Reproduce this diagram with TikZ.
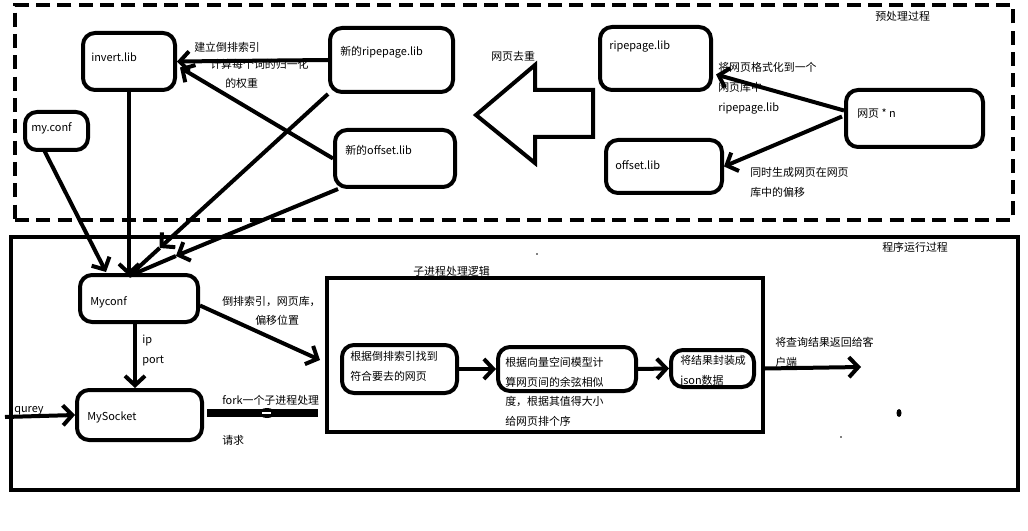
\documentclass[tikz,border=0pt]{standalone}
\usepackage{fontspec}
\setmainfont{Noto Sans CJK SC}
\usetikzlibrary{arrows.meta,calc,fit}
\begin{document}
\begin{tikzpicture}[x=0.75pt,y=-0.75pt,
  box/.style={draw,line width=3pt,rounded corners=9pt,inner sep=0pt},
  frame/.style={draw,line width=3.5pt,inner sep=0pt},
  t/.style={anchor=base west,inner sep=0pt,font=\fontsize{8.2pt}{10pt}\selectfont},
  arr/.style={line width=3pt,-{Straight Barb[length=7pt,width=15pt]}},
  ln/.style={line width=3pt}]
\useasboundingbox (0,0) rectangle (1028,531);

% frames
\node[frame,dash pattern=on 10.5pt off 5.5pt,fit={(15,5)(1013,220)}] (pre) {};
\node[frame,fit={(11,237)(1018,490)}] (run) {};
\node[frame,line width=3pt,fit={(327,278)(763,432)}] (sub) {};

% boxes
\node[box,fit={(83,33)(175,90)}] (inv) {};
\node[box,fit={(25,112)(88,150)}] (mc) {};
\node[box,fit={(330,28)(453,92)}] (rip) {};
\node[box,fit={(335,130)(455,187)}] (off) {};
\node[box,fit={(600,27)(711,90)}] (rp) {};
\node[box,fit={(606,140)(722,193)}] (of) {};
\node[box,fit={(846,90)(983,147)}] (web) {};
\node[box,fit={(80,275)(198,322)}] (cf) {};
\node[box,fit={(77,390)(202,440)}] (sock) {};
\node[box,fit={(342,345)(457,393)}] (b1) {};
\node[box,fit={(498,347)(636,391)}] (b2) {};
\node[box,fit={(671,350)(754,387)}] (b3) {};

% hollow arrow
\draw[line width=3pt,line join=miter] (476,115) -- (535,65) -- (535,90) -- (593,90) -- (593,137) -- (535,137) -- (535,163) -- cycle;

% coordinates
\coordinate (conv) at (129,276);
\coordinate (q) at (5,417);
\coordinate (f1) at (207,413);
\coordinate (f2) at (318,413);
\coordinate (out) at (861,367);
\coordinate (m1) at ($(rip.south west)!0.846!(conv)$);
\coordinate (m2) at ($(off.south west)!0.77!(conv)$);

% connectors
\draw[arr] (rip.west) -- (inv.east);
\draw[arr] (off.west) -- ($(inv.east)+(3,6)$);
\draw[arr] ($(mc.south)+(-13,-3)$) -- ($(conv)+(-23,-4)$);
\draw[arr] (inv.south) -- (conv);
\draw[arr] (rip.south west) -- (m1);
\draw[ln] (m1) -- (conv);
\draw[arr] ($(off.south west)+(5,0)$) -- (m2);
\draw[ln] (m2) -- (conv);
\draw[arr] ($(cf.south)+(-4,0)$) -- ($(sock.north)+(-4.5,0)$);
\draw[arr] (q) -- (sock.west);
\draw[arr] ($(cf.east)+(0,7)$) -- ($(sub.west)+(-5,5)$);
\draw[line width=5.5pt] (f1) -- (f2);
\fill (267,413) ellipse (8 and 5);
\draw[white,line width=1pt] (262,413) -- (271,413);
\draw[arr] (b1.east) -- (b2.west);
\draw[arr] (b2.east) -- (b3.west);
\draw[arr] (sub.east |- b3.east) -- (out);
\draw[arr] ($(web.west)+(0,-8)$) -- ($(rp.east)+(3,16)$);
\draw[arr] ($(web.west)+(-2,-2)$) -- (of.east);

% stray dots
\fill (899,413) ellipse (2.5 and 4);
\fill (537,254) circle (0.8);
\fill (841,437) circle (0.8);

% texts
\node[t] (tinv) at (91,62) {invert.lib};
\node[t] (tmc) at (31,132) {my.conf};
\node[t] (trip) at (340,56) {新的ripepage.lib};
\node[t] (toff) at (345,155) {新的offset.lib};
\node[t] (l1) at (194,52) {建立倒排索引};
\node[t] (l2) at (210,69) {计算每个词的归一化};
\node[t] (l3) at (225,88) {的权重};
\node[t] (tqc) at (491,61) {网页去重};
\node[t] (trp) at (609,50) {ripepage.lib};
\node[t] (tof) at (615,170) {offset.lib};
\node[t] (tweb) at (857,118) {网页 * n};
\node[t] (l4) at (718,72) {将网页格式化到一个};
\node[t] (l5) at (718,92) {网页库中};
\node[t] (l6) at (718,112) {ripepage.lib};
\node[t] (l7) at (750,176) {同时生成网页在网页};
\node[t] (l8) at (750,196) {库中的偏移};
\node[t] (tpre) at (875,21) {预处理过程};
\node[t] (trun) at (882,252) {程序运行过程};
\node[t] (tcf) at (90,305) {Myconf};
\node[t] (tip) at (142,343) {ip};
\node[t] (tport) at (142,363) {port};
\node[t] (tsock) at (87,420) {MySocket};
\node[t] (tq) at (14,412) {qurey};
\node[t] (l9) at (222,305) {倒排索引，网页库，};
\node[t] (l10) at (255,324) {偏移位置};
\node[t] (l11) at (222,404) {fork一个子进程处理};
\node[t] (l12) at (222,444) {请求};
\node[t] (tsub) at (413,275) {子进程处理逻辑};
\node[t] (l13) at (350,360) {根据倒排索引找到};
\node[t] (l14) at (350,380) {符合要去的网页};
\node[t] (l15) at (505,366) {根据向量空间模型计};
\node[t] (l16) at (505,386) {算网页间的余弦相似};
\node[t] (l17) at (505,405) {度，根据其值得大小};
\node[t] (l18) at (505,425) {给网页排个序};
\node[t] (l19) at (680,364) {将结果封装成};
\node[t] (l20) at (680,384) {json数据};
\node[t] (l21) at (775,346) {将查询结果返回给客};
\node[t] (l22) at (775,366) {户端};
\end{tikzpicture}
\end{document}
